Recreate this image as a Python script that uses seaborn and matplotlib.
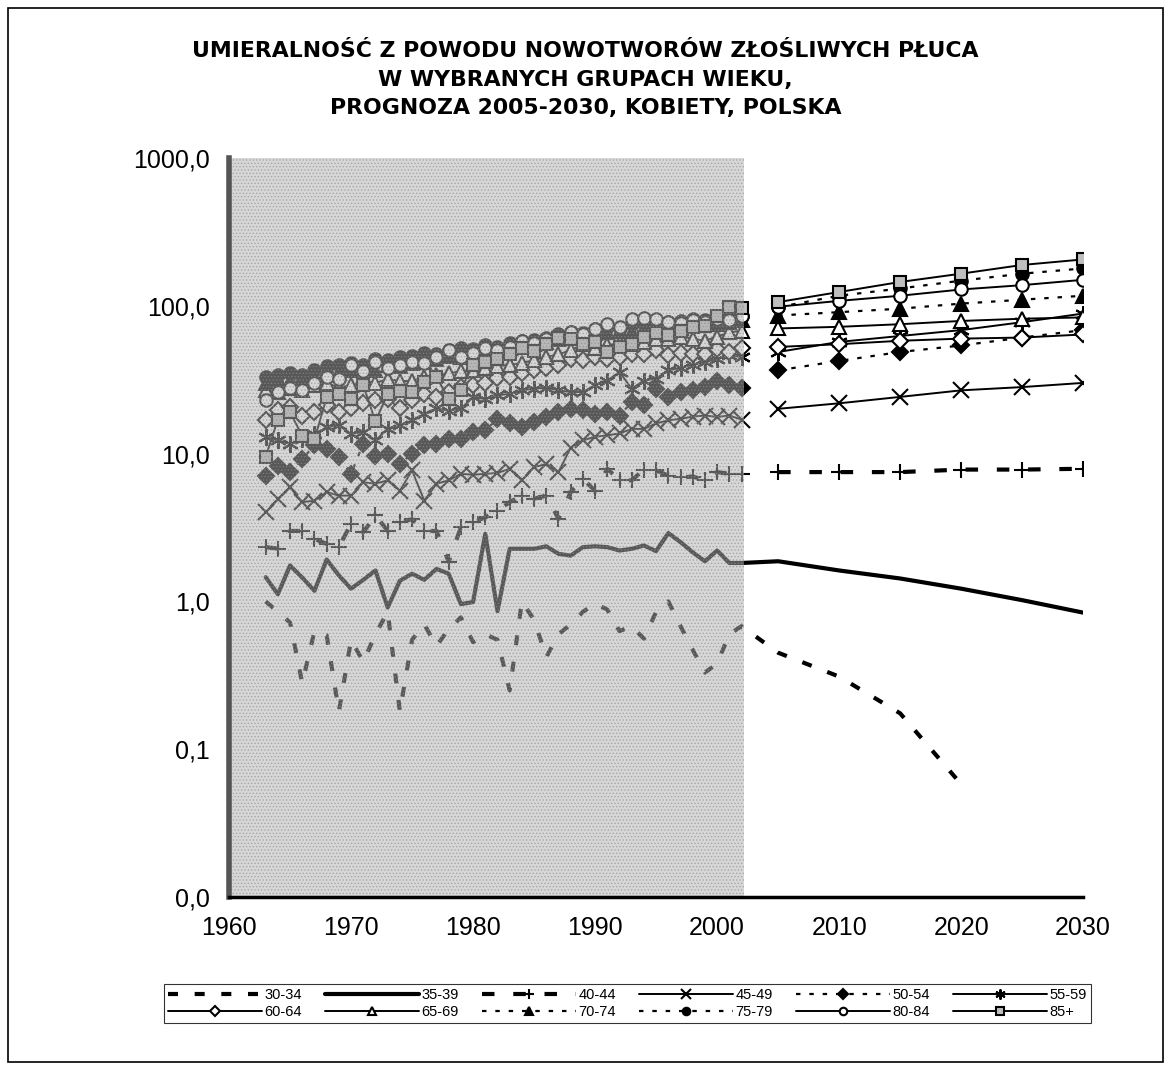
import seaborn as sns
import matplotlib.pyplot as plt
import numpy as np
import pandas as pd
from matplotlib.patches import Rectangle

# observed years (shaded part) and forecast years
hist_years = list(range(1963, 2003))
proj_years = [2005, 2010, 2015, 2020, 2025, 2030]

age_groups = ['30-34', '35-39', '40-44', '45-49', '50-54', '55-59',
              '60-64', '65-69', '70-74', '75-79', '80-84', '85+']

# rates per 100 000, 1963-2002
hist_30_34 = [1.0, 0.85, 0.72, 0.28, 0.63, 0.59, 0.18, 0.55, 0.39, 0.60,
              0.85, 0.18, 0.55, 0.70, 0.50, 0.65, 0.78, 0.53, 0.60, 0.55,
              0.25, 1.0, 0.75, 0.42, 0.60, 0.70, 0.85, 0.97, 0.88, 0.63,
              0.68, 0.56, 0.85, 1.0, 0.68, 0.47, 0.33, 0.38, 0.60, 0.68]
hist_35_39 = [1.46, 1.12, 1.75, 1.45, 1.18, 1.92, 1.50, 1.22, 1.40, 1.62,
              0.91, 1.38, 1.54, 1.40, 1.66, 1.54, 0.96, 0.99, 2.87, 0.86,
              2.27, 2.27, 2.27, 2.36, 2.10, 2.04, 2.33, 2.36, 2.33, 2.21,
              2.27, 2.39, 2.19, 2.90, 2.52, 2.15, 1.87, 2.21, 1.82, 1.82]
hist_40_44 = [2.33, 2.28, 3.0, 3.0, 2.65, 2.45, 2.33, 3.35, 2.94, 3.82,
              3.0, 3.44, 3.6, 3.0, 3.0, 1.85, 3.18, 3.44, 3.7, 4.12,
              4.7, 5.2, 4.96, 5.2, 3.62, 5.5, 6.75, 5.6, 7.9, 6.6,
              6.6, 7.8, 7.7, 7.1, 6.9, 7.0, 6.6, 7.5, 7.3, 7.3]
hist_45_49 = [4.0, 4.9, 5.9, 4.7, 4.8, 5.5, 5.2, 5.2, 6.4, 6.25,
              6.6, 5.6, 7.7, 4.8, 6.25, 6.6, 7.3, 7.2, 7.3, 7.4,
              7.9, 6.6, 8.1, 8.5, 7.5, 11.0, 12.3, 13.0, 13.3, 13.7,
              14.7, 14.7, 16.0, 16.8, 17.2, 17.8, 18.1, 17.7, 18.1, 17.0]
hist_50_54 = [7.1, 8.3, 7.5, 9.2, 11.4, 10.8, 9.5, 7.3, 11.7, 9.7,
              10.0, 8.5, 10.0, 11.4, 11.7, 12.6, 12.6, 14.0, 14.4, 17.2,
              16.0, 15.1, 16.3, 17.7, 19.1, 20.0, 19.6, 18.6, 19.1, 18.1,
              22.3, 21.2, 27.5, 24.2, 26.0, 27.0, 28.2, 31.2, 29.2, 28.0]
hist_55_59 = [12.9, 12.3, 11.7, 12.5, 13.5, 15.1, 15.5, 13.6, 14.0, 12.3,
              14.7, 15.5, 16.8, 18.6, 20.2, 19.5, 20.2, 24.0, 23.5, 24.8,
              25.4, 26.8, 27.5, 27.9, 26.8, 26.1, 26.1, 29.1, 31.2, 35.7,
              27.5, 31.2, 32.2, 36.6, 38.0, 40.0, 41.5, 43.8, 46.3, 45.0]
hist_60_64 = [16.8, 19.6, 20.6, 18.1, 19.1, 21.2, 19.1, 20.2, 22.0, 23.0,
              23.6, 20.2, 23.0, 25.4, 24.2, 26.0, 28.2, 29.0, 30.0, 32.5,
              33.0, 35.0, 36.6, 38.0, 40.0, 43.8, 42.9, 44.9, 43.8, 44.9,
              47.4, 47.4, 50.0, 46.3, 48.0, 47.0, 47.4, 51.4, 49.0, 52.0]
hist_65_69 = [27, 26, 28, 27, 29, 30, 28, 29, 31, 30,
              32, 31, 31, 33, 34, 35, 36, 37, 38, 39,
              40, 41, 43, 45, 47, 50, 55, 52, 54, 56,
              55, 57, 60, 60, 62, 60, 58, 62, 66, 68]
hist_70_74 = [30, 32, 31, 33, 34, 36, 35, 37, 38, 37,
              40, 39, 41, 42, 44, 46, 45, 48, 50, 49,
              52, 54, 55, 57, 60, 62, 63, 65, 66, 68,
              67, 70, 72, 73, 71, 74, 76, 75, 78, 80]
hist_75_79 = [33, 34, 35, 34, 37, 39, 40, 41, 40, 44,
              43, 45, 46, 48, 47, 50, 52, 51, 54, 53,
              56, 58, 59, 61, 64, 66, 65, 70, 72, 71,
              75, 77, 80, 78, 79, 82, 80, 81, 84, 86]
hist_80_84 = [23, 26, 28, 27, 30, 33, 32, 40, 36, 42,
              38, 40, 42, 41, 45, 50, 45, 48, 52, 50,
              53, 58, 56, 60, 62, 66, 64, 70, 75, 72,
              81, 83, 81, 78, 76, 80, 78, 82, 80, 85]
hist_85 = [9.5, 17, 19, 13.2, 12.5, 24, 25.5, 23.5, 29, 16.5,
           25.5, 26.5, 26, 30.5, 33, 23.5, 27, 40, 41.5, 44,
           47, 51.5, 49.3, 55, 61, 59.7, 55, 57.3, 48.8, 52.7,
           55, 62, 65.4, 63.7, 68, 72, 73, 85, 98, 96]

# forecast 2005-2030
proj_30_34 = [0.45, 0.31, 0.175, 0.058]
proj_35_39 = [1.87, 1.62, 1.43, 1.22, 1.02, 0.84]
proj_40_44 = [7.5, 7.5, 7.5, 7.8, 7.8, 7.9]
proj_45_49 = [20.1, 21.9, 24.2, 26.8, 28.2, 30.1]
proj_50_54 = [36.6, 42.4, 48.7, 53.9, 61.0, 68.5]
proj_55_59 = [48.7, 57.0, 62.5, 68.5, 77.5, 88.7]
proj_60_64 = [52.7, 55.0, 58.0, 60.0, 61.0, 64.0]
proj_65_69 = [70.3, 72.1, 75.1, 79.0, 81.8, 83.5]
proj_70_74 = [86, 90.6, 95.6, 103.5, 110, 117]
proj_75_79 = [98, 117, 131, 148, 165, 179]
proj_80_84 = [98.6, 108, 117, 129, 138, 150]
proj_85 = [106, 124, 145, 165, 189, 206]

hist_vals = [hist_30_34, hist_35_39, hist_40_44, hist_45_49, hist_50_54, hist_55_59,
             hist_60_64, hist_65_69, hist_70_74, hist_75_79, hist_80_84, hist_85]
proj_vals = [proj_30_34, proj_35_39, proj_40_44, proj_45_49, proj_50_54, proj_55_59,
             proj_60_64, proj_65_69, proj_70_74, proj_75_79, proj_80_84, proj_85]

y_ticks = [0.01, 0.1, 1, 10, 100, 1000]
y_tick_labels = ['0,0', '0,1', '1,0', '10,0', '100,0', '1000,0']
x_ticks = [1960, 1970, 1980, 1990, 2000, 2010, 2020, 2030]

title = ('UMIERALNOŚĆ Z POWODU NOWOTWORÓW ZŁOŚLIWYCH PŁUCA\n'
         'W WYBRANYCH GRUPACH WIEKU,\n'
         'PROGNOZA 2005-2030, KOBIETY, POLSKA')

# line looks, one per age group
dash_big = (0, (2.4, 4.0))
dots = (0, (2.0, 4.0))
styles = {
    '30-34': dict(linestyle=dash_big, linewidth=3.0, marker=None),
    '35-39': dict(linestyle='-', linewidth=3.0, marker=None),
    '40-44': dict(linestyle=(0, (3.0, 4.5)), linewidth=3.0, marker='+', markersize=12, markerfacecolor='black'),
    '45-49': dict(linestyle='-', linewidth=1.4, marker='x', markersize=11, markerfacecolor='black'),
    '50-54': dict(linestyle=dots, linewidth=1.6, marker='D', markersize=8, markerfacecolor='black'),
    '55-59': dict(linestyle='-', linewidth=1.4, marker=(6, 2, 0), markersize=12, markerfacecolor='black'),
    '60-64': dict(linestyle='-', linewidth=1.4, marker='D', markersize=8, markerfacecolor='white'),
    '65-69': dict(linestyle='-', linewidth=1.4, marker='^', markersize=10, markerfacecolor='white'),
    '70-74': dict(linestyle=dots, linewidth=1.6, marker='^', markersize=10, markerfacecolor='black'),
    '75-79': dict(linestyle=dots, linewidth=1.6, marker='o', markersize=9, markerfacecolor='black'),
    '80-84': dict(linestyle='-', linewidth=1.4, marker='o', markersize=9, markerfacecolor='white'),
    '85+': dict(linestyle='-', linewidth=1.4, marker='s', markersize=9, markerfacecolor='#bfbfbf'),
}
# these two run on without a break from 2002 into the forecast
joined = ['30-34', '35-39']

sns.set_style('white')
plt.rcParams['font.family'] = ['Liberation Sans', 'DejaVu Sans']
plt.rcParams['hatch.linewidth'] = 0.6
plt.rcParams['text.color'] = 'black'
plt.rcParams['xtick.color'] = 'black'
plt.rcParams['ytick.color'] = 'black'

fig = plt.figure(figsize=(11.71, 10.72), dpi=100)
ax = fig.add_axes([0.1956, 0.1632, 0.7294, 0.6894])
ax.set_yscale('log')

handles = []
for grp, hv, pv in zip(age_groups, hist_vals, proj_vals):
    st = dict(styles[grp])
    kw = dict(color='black', markeredgecolor='black', markeredgewidth=1.5,
              sort=False, estimator=None, legend=False, ax=ax)
    kw.update(st)
    py = proj_years[:len(pv)]
    if grp in joined:
        sns.lineplot(x=hist_years + py, y=hv + pv, **kw)
        handles.append(ax.lines[-1])
    else:
        sns.lineplot(x=hist_years, y=hv, **kw)
        sns.lineplot(x=py, y=pv, **kw)
        handles.append(ax.lines[-1])

# stippled grey veil over the observed period
ax.axvspan(1960, 2002.2, facecolor='#b0b0b0', alpha=0.5, lw=0, zorder=3)
ax.axvspan(1960, 2002.2, facecolor='none', edgecolor='#8c8c8c', hatch='.....',
           lw=0, alpha=0.6, zorder=3)

ax.set_xlim(1960, 2030)
ax.set_ylim(0.01, 1000)
ax.set_xticks(x_ticks)
ax.set_xticklabels([str(x) for x in x_ticks], fontsize=18)
ax.set_yticks(y_ticks)
ax.set_yticklabels(y_tick_labels, fontsize=18)
ax.minorticks_off()
ax.tick_params(axis='both', direction='out', length=6, width=2.5, color='black', pad=8)
ax.set_xlabel('')
ax.set_ylabel('')

for side in ['top', 'right']:
    ax.spines[side].set_visible(False)
ax.spines['bottom'].set_linewidth(2.5)
ax.spines['bottom'].set_color('black')
ax.spines['left'].set_linewidth(4)
ax.spines['left'].set_color('#555555')
for sp in ax.spines.values():
    sp.set_zorder(4)

fig.text(0.5, 0.962, title, ha='center', va='top', fontsize=15.8,
         fontweight='bold', family='DejaVu Sans', linespacing=1.55,
         color='black')

# legend filled row by row
order = [0, 6, 1, 7, 2, 8, 3, 9, 4, 10, 5, 11]
leg = fig.legend([handles[i] for i in order], [age_groups[i] for i in order],
                 loc='center', bbox_to_anchor=(0.536, 0.064), ncol=6,
                 fontsize=10.5, handlelength=6.4, handletextpad=0.2,
                 columnspacing=1.6, borderpad=0.3, labelspacing=0.2,
                 markerscale=0.6, frameon=True, fancybox=False, edgecolor='black')
leg.get_frame().set_linewidth(0.8)

fig.patches.append(Rectangle((0.007, 0.009), 0.986, 0.984, transform=fig.transFigure,
                             fill=False, edgecolor='black', lw=1.2))

fig.savefig('out.png', dpi=100)
